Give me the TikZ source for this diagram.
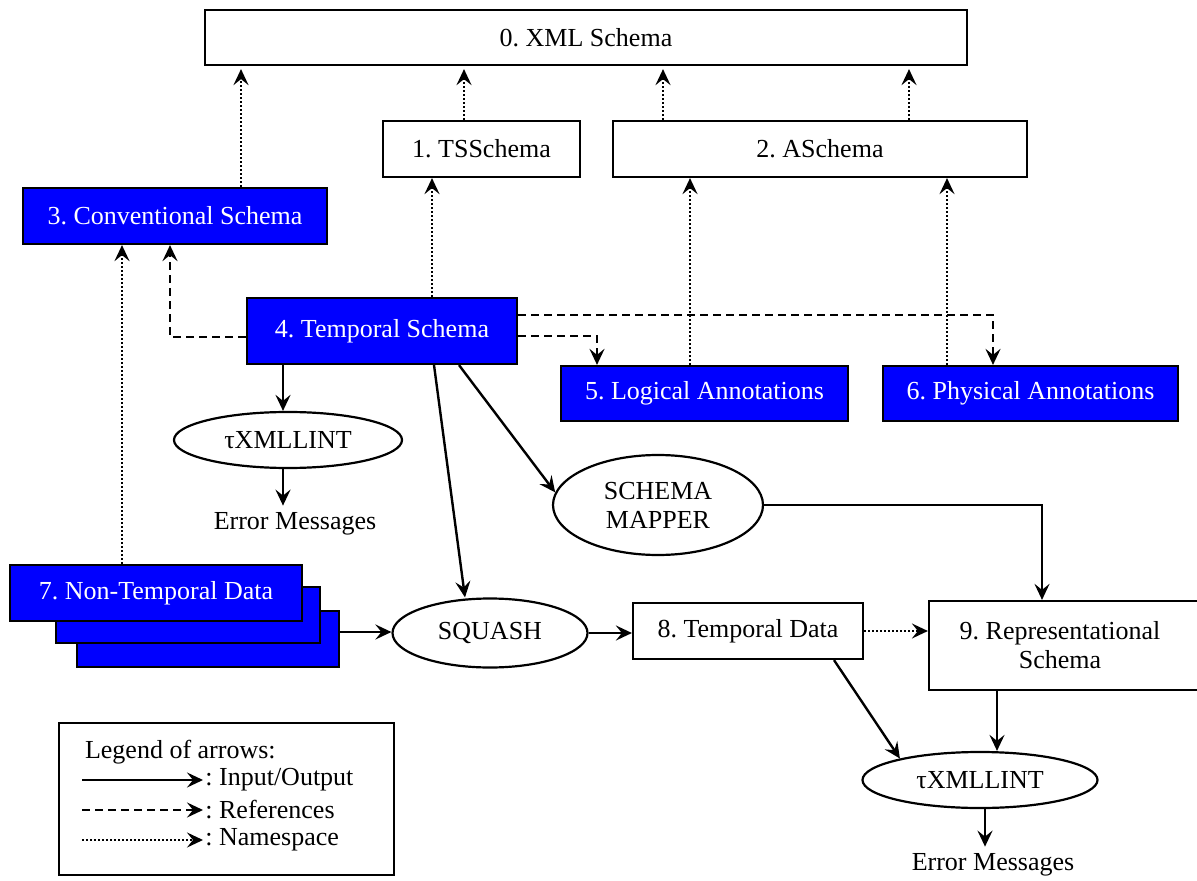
\documentclass[tikz,border=0pt]{standalone}
\usepackage{fontspec}
\setmainfont{Liberation Serif}
\usetikzlibrary{arrows.meta,shapes.geometric}
\begin{document}
\frenchspacing
\begin{tikzpicture}[x=0.5pt,y=-0.5pt,
  every node/.style={font=\fontsize{13}{14.5}\selectfont},
  box/.style={draw=black, line width=1.1pt, fill=white, inner sep=0pt},
  bbox/.style={box, fill=blue, text=white},
  ell/.style={draw=black, ellipse, line width=1.1pt, inner sep=0pt},
  tip/.style={-{Stealth[length=8pt,width=7.5pt,inset=3pt]}},
  io/.style={line width=1.2pt, tip},
  refarrow/.style={line width=1.2pt, dash pattern=on 4pt off 2.5pt, tip},
  ns/.style={line width=1.1pt, dash pattern=on 0.8pt off 1.2pt, tip},
]
\useasboundingbox (0,0) rectangle (1197,881);

% boxes
\node[box, minimum width=381pt, minimum height=27.5pt] (n0) at (586,37.5) {0. XML Schema};
\node[box, minimum width=98.5pt, minimum height=28pt] (n1) at (481.5,149) {1. TSSchema};
\node[box, minimum width=207pt, minimum height=28pt] (n2) at (820,149) {2. ASchema};
\node[bbox, minimum width=152pt, minimum height=28pt] (n3) at (175,216) {3. Conventional Schema};
\node[bbox, minimum width=135pt, minimum height=33pt] (n4) at (382,331) {4. Temporal Schema};
\node[bbox, minimum width=143.5pt, minimum height=27.5pt] (n5) at (704.5,393.5) {5. Logical Annotations};
\node[bbox, minimum width=147.5pt, minimum height=27.5pt] (n6) at (1030.5,393.5) {6. Physical Annotations};
\node[bbox, minimum width=131pt, minimum height=28pt] (n7c) at (208,639) {};
\node[bbox, minimum width=132pt, minimum height=28pt] (n7b) at (188,615) {};
\node[bbox, minimum width=146pt, minimum height=28pt] (n7) at (156,593) {7. Non-Temporal Data};
\node[box, minimum width=115pt, minimum height=28pt] (n8) at (748,631) {8. Temporal Data};
\node[box, minimum width=138pt, minimum height=44.5pt] (n9box) at (1067,645.5) {};
\node[align=center] (n9) at (1060,645) {9. Representational\\Schema};

% ellipses and plain texts
\node[ell, minimum width=114pt, minimum height=28pt] (lint1) at (288,440) {τXMLLINT};
\node (err1) at (295,524) {Error Messages};
\node[ell, minimum width=105pt, minimum height=50pt, align=center] (mapper) at (658,505) {SCHEMA\\MAPPER};
\node[ell, minimum width=97.5pt, minimum height=34.5pt] (squash) at (490,633) {SQUASH};
\node[ell, minimum width=117.5pt, minimum height=28pt] (lint2) at (980,780) {τXMLLINT};
\node (err2) at (993,865) {Error Messages};

% helper coordinates (x positions)
\coordinate (x122) at (122,0);
\coordinate (x170) at (170,0);
\coordinate (x241) at (241,0);
\coordinate (x283) at (283,0);
\coordinate (x432) at (432,0);
\coordinate (x434) at (434,0);
\coordinate (x459) at (459,0);
\coordinate (x464) at (464,0);
\coordinate (x465) at (465,0);
\coordinate (x597) at (597,0);
\coordinate (x663) at (663,0);
\coordinate (x690) at (690,0);
\coordinate (x834) at (834,0);
\coordinate (x909) at (909,0);
\coordinate (x947) at (947,0);
\coordinate (x985) at (985,0);
\coordinate (x993) at (993,0);
\coordinate (x997) at (997,0);
\coordinate (x1042) at (1042,0);
\coordinate (y315) at (0,315);
\coordinate (y336) at (0,336);
\coordinate (y337) at (0,337);
\coordinate (y632) at (0,632);

% namespace (dotted)
\draw[ns, shorten >=1.5pt] (n3.north -| x241) -- (n0.south -| x241);
\draw[ns, shorten >=1.5pt] (n1.north -| x464) -- (n0.south -| x464);
\draw[ns, shorten >=1.5pt] (n2.north -| x663) -- (n0.south -| x663);
\draw[ns, shorten >=1.5pt] (n2.north -| x909) -- (n0.south -| x909);
\draw[ns] (n4.north -| x432) -- (n1.south -| x432);
\draw[ns] (n5.north -| x690) -- (n2.south -| x690);
\draw[ns] (n6.north -| x947) -- (n2.south -| x947);
\draw[ns] (n7.north -| x122) -- (n3.south -| x122);
\draw[ns] (n8.east) -- (n9box.west |- n8.east);

% references (dashed)
\draw[refarrow] (n4.west |- y337) -| (n3.south -| x170);
\draw[refarrow] (n4.east |- y336) -| (n5.north -| x597);
\draw[refarrow] (n4.east |- y315) -| (n6.north -| x993);

% input/output (solid)
\draw[io] (n4.south -| x283) -- (lint1.north -| x283);
\draw[io] (lint1.south -| x283) -- (err1.north -| x283);
\draw[io] (n4.south -| x434) -- (squash.north -| x465);
\draw[io] (n4.south -| x459) -- (mapper.173);
\draw[io] (mapper.east) -| (n9box.north -| x1042);
\draw[io] (n7c.east |- y632) -- (squash.west |- y632);
\draw[io] (squash.east) -- (n8.west |- squash.east);
\draw[io] (n8.south -| x834) -- (lint2.165);
\draw[io] (n9box.south -| x997) -- (lint2.north -| x997);
\draw[io] (lint2.south -| x985) -- (err2.north -| x985);

% legend
\node[draw=black, line width=1.1pt, minimum width=167.5pt, minimum height=76pt, inner sep=0pt] (legend) at (226.5,799) {};
\node[anchor=west] (lgtitle) at (78,752) {Legend of arrows:};
\coordinate (l1a) at (82,780);  \coordinate (l1b) at (203,780);
\coordinate (l2a) at (82,810);  \coordinate (l2b) at (203,810);
\coordinate (l3a) at (82,840);  \coordinate (l3b) at (203,840);
\draw[io] (l1a) -- (l1b);
\draw[refarrow] (l2a) -- (l2b);
\draw[ns] (l3a) -- (l3b);
\node[anchor=west, inner sep=1pt] (lg1) at (l1b) {: Input/Output};
\node[anchor=west, inner sep=1pt] (lg2) at (l2b) {: References};
\node[anchor=west, inner sep=1pt] (lg3) at (l3b) {: Namespace};
\end{tikzpicture}
\end{document}
